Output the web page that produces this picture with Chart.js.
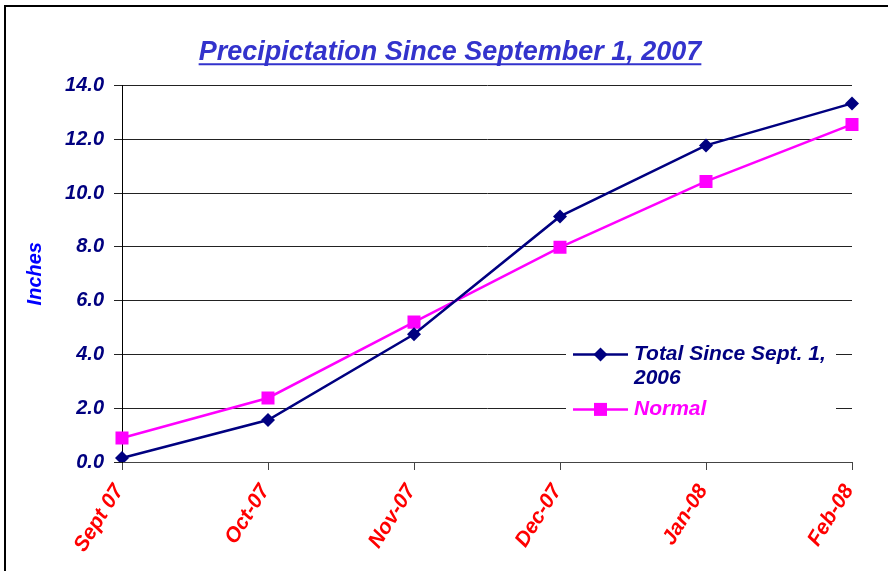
<!DOCTYPE html>
<html>
<head>
  <meta charset="UTF-8">
  <title>Precipitation Since September 1, 2007</title>
  <script src="https://cdn.jsdelivr.net/npm/chart.js"></script>
  <style>
    html, body { margin: 0; padding: 0; background: #fff; overflow: hidden; }
    #frame {
      position: absolute; left: 4px; top: 5px;
      width: 1000px; height: 700px;
      border: 2px solid #000;
    }
    #chart { position: absolute; left: 0; top: 0; }
  </style>
</head>
<body>
  <div id="frame"></div>
  <canvas id="chart" width="888" height="571"></canvas>

  <script>
    // chart data
    const months = ['Sept 07', 'Oct-07', 'Nov-07', 'Dec-07', 'Jan-08', 'Feb-08'];
    const totalSince = [0.15, 1.56, 4.75, 9.13, 11.77, 13.33];
    const normal = [0.89, 2.38, 5.2, 7.98, 10.43, 12.55];
    const yTicks = [0, 2, 4, 6, 8, 10, 12, 14];

    const seriesNames = [['Total Since Sept. 1,', '2006'], ['Normal']];
    const navy = '#000080';
    const magenta = '#ff00ff';
    const family = '"Liberation Sans", Arial, sans-serif';
    const titleSize = 27;

    // excel centres the title over the whole frame, not the plot
    // also draws the underline
    const titleTweaks = {
      id: 'titleTweaks',
      afterLayout(chart) {
        if (chart.titleBlock) chart.titleBlock.left = 48;
      },
      afterDraw(chart) {
        const t = chart.titleBlock;
        if (!t) return;
        const ctx = chart.ctx;
        const text = chart.options.plugins.title.text;
        ctx.save();
        ctx.font = 'italic bold ' + titleSize + 'px ' + family;
        const w = ctx.measureText(text).width;
        const cx = (t.left + t.right) / 2;
        const y = t.top + 36 + titleSize * 0.6 + 12;
        ctx.strokeStyle = '#3333cc';
        ctx.lineWidth = 2;
        ctx.beginPath();
        ctx.moveTo(cx - w / 2, y);
        ctx.lineTo(cx + w / 2, y);
        ctx.stroke();
        ctx.restore();
      }
    };

    // legend drawn inside the plot area, excel style
    const innerLegend = {
      id: 'innerLegend',
      afterDatasetsDraw(chart) {
        const ctx = chart.ctx;
        const area = chart.chartArea;
        const left = area.right - 286;
        const top = area.top + 253;
        ctx.save();
        ctx.fillStyle = '#fff';
        ctx.fillRect(left, top, 270, 87);

        const rows = [top + 16, top + 71];
        chart.data.datasets.forEach((ds, i) => {
          const y = rows[i];
          const x0 = left + 7, x1 = left + 62, xm = (x0 + x1) / 2;
          ctx.strokeStyle = ds.borderColor;
          ctx.lineWidth = ds.borderWidth;
          ctx.beginPath();
          ctx.moveTo(x0, y);
          ctx.lineTo(x1, y);
          ctx.stroke();
          ctx.fillStyle = ds.pointBackgroundColor;
          ctx.beginPath();
          if (ds.pointStyle === 'rectRot') {
            const r = ds.pointRadius;
            ctx.moveTo(xm, y - r); ctx.lineTo(xm + r, y);
            ctx.lineTo(xm, y + r); ctx.lineTo(xm - r, y);
            ctx.closePath();
          } else {
            const s = ds.pointRadius * Math.SQRT1_2;
            ctx.rect(xm - s, y - s, 2 * s, 2 * s);
          }
          ctx.fill();

          ctx.fillStyle = ds.borderColor;
          ctx.font = 'italic bold 21px ' + family;
          ctx.textBaseline = 'middle';
          ctx.textAlign = 'left';
          seriesNames[i].forEach((line, k) => {
            ctx.fillText(line, x1 + 6, y + k * 24);
          });
        });
        ctx.restore();
      }
    };

    new Chart(document.getElementById('chart'), {
      type: 'line',
      data: {
        labels: months,
        datasets: [{
          label: seriesNames[0].join(' '),
          data: totalSince,
          borderColor: navy,
          backgroundColor: navy,
          pointBackgroundColor: navy,
          pointBorderColor: navy,
          borderWidth: 2.5,
          pointStyle: 'rectRot',
          pointRadius: 7,
          pointBorderWidth: 0,
          tension: 0
        }, {
          label: seriesNames[1].join(' '),
          data: normal,
          borderColor: magenta,
          backgroundColor: magenta,
          pointBackgroundColor: magenta,
          pointBorderColor: magenta,
          borderWidth: 2.5,
          pointStyle: 'rect',
          pointRadius: 9.2,
          pointBorderWidth: 0,
          tension: 0
        }]
      },
      options: {
        responsive: false,
        animation: false,
        layout: { padding: { left: 0, right: 36, top: 0, bottom: 0 } },
        plugins: {
          legend: { display: false },
          tooltip: { enabled: false },
          title: {
            display: true,
            text: 'Precipictation Since September 1, 2007',
            color: '#3333cc',
            font: { family: family, size: titleSize, style: 'italic', weight: 'bold' },
            padding: { top: 36, bottom: 17 }
          }
        },
        scales: {
          x: {
            type: 'category',
            offset: false,
            grid: {
              drawOnChartArea: false,
              drawTicks: true,
              tickLength: 8,
              color: '#444'
            },
            border: { color: '#444', width: 1 },
            ticks: {
              color: '#ff0000',
              font: { family: family, size: 21, style: 'italic', weight: 'bold' },
              minRotation: 58,
              maxRotation: 58,
              padding: 10,
              labelOffset: -3,
              autoSkip: false
            },
            afterFit(scale) { scale.height = 109; }
          },
          y: {
            min: 0,
            max: 14,
            afterBuildTicks(scale) { scale.ticks = yTicks.map(v => ({ value: v })); },
            grid: {
              color: '#222',
              tickLength: 8,
              drawTicks: true
            },
            border: { color: '#000', width: 1 },
            ticks: {
              color: navy,
              padding: 10,
              font: { family: family, size: 20, style: 'italic', weight: 'bold' },
              callback: v => v.toFixed(1)
            },
            title: {
              display: true,
              text: 'Inches',
              color: '#0000ff',
              font: { family: family, size: 20, style: 'italic', weight: 'bold' },
              padding: { top: 23, bottom: 0 }
            },
            afterFit(scale) { scale.width = 122; }
          }
        }
      },
      plugins: [innerLegend, titleTweaks]
    });
  </script>
</body>
</html>
